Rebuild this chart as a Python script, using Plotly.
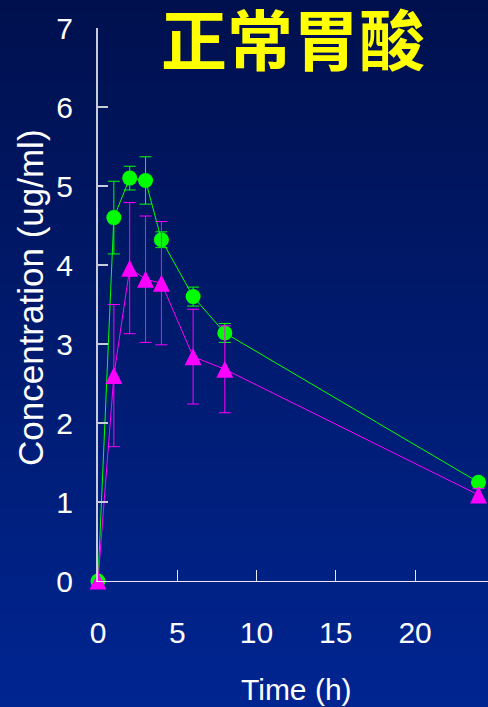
import plotly.graph_objects as go

# ---- data ----
times = [0, 1, 2, 3, 4, 6, 8, 24]
green_conc = [0, 4.60, 5.10, 5.07, 4.32, 3.60, 3.14, 1.25]
green_sd = [0, 0.46, 0.15, 0.30, 0.10, 0.12, 0.12, 0.05]
magenta_conc = [0, 2.60, 3.96, 3.82, 3.77, 2.84, 2.68, 1.09]
magenta_sd = [0, 0.90, 0.83, 0.80, 0.78, 0.60, 0.55, 0.08]
x_ticks = [0, 5, 10, 15, 20]
y_ticks = [0, 1, 2, 3, 4, 5, 6, 7]
title_text = "正常胃酸"
x_title = "Time (h)"
y_title = "Concentration (ug/ml)"

# ---- layout geometry (pixels) ----
W, H = 488, 707
L, R, T, B = 98, 0, 28, 126
plot_h = H - T - B
plot_w = W - L - R
Y_MAX = 7
X_MAX = 24.6

GREEN = "#00FF00"
MAGENTA = "#FF00FF"
TRI_SIZE = 17
tri_shift = (TRI_SIZE / 2) / (plot_h / Y_MAX)

fig = go.Figure()

fig.add_trace(go.Scatter(
    x=times, y=green_conc, mode="lines+markers",
    line=dict(color=GREEN, width=1),
    marker=dict(symbol="circle", size=15, color=GREEN, line=dict(width=0)),
    error_y=dict(type="data", array=green_sd, color=GREEN, thickness=1, width=6),
    cliponaxis=False, showlegend=False,
))
fig.add_trace(go.Scatter(
    x=times, y=magenta_conc, mode="lines",
    line=dict(color=MAGENTA, width=1),
    error_y=dict(type="data", array=magenta_sd, color=MAGENTA, thickness=1, width=6),
    cliponaxis=False, showlegend=False,
))
fig.add_trace(go.Scatter(
    x=times, y=magenta_conc, mode="markers", yaxis="y2",
    marker=dict(symbol="arrow-up", size=TRI_SIZE, color=MAGENTA, line=dict(width=0)),
    cliponaxis=False, showlegend=False,
))

# gradient background bands
shapes = []
N = 60
top_c = (0, 16, 78)
bot_c = (0, 37, 145)
for i in range(N):
    py0 = i * H / N
    py1 = (i + 1) * H / N + 1
    t = (i + 0.5) / N
    c = tuple(int(round(top_c[k] + (bot_c[k] - top_c[k]) * t)) for k in range(3))
    shapes.append(dict(
        type="rect", xref="paper", yref="paper", layer="below",
        x0=-0.4, x1=1.2,
        y0=(H - B - py1) / plot_h, y1=(H - B - py0) / plot_h,
        fillcolor="rgb(%d,%d,%d)" % c, line=dict(width=0),
    ))

font_family = "Liberation Sans, Arial, sans-serif"

fig.update_layout(
    width=W, height=H,
    margin=dict(l=L, r=R, t=T, b=B, pad=0),
    paper_bgcolor="rgb(0,30,110)",
    plot_bgcolor="rgba(0,0,0,0)",
    shapes=shapes,
    xaxis=dict(
        range=[0, X_MAX], tickvals=x_ticks, ticks="inside", ticklen=11,
        tickwidth=1, tickcolor="#E8E8F0", showline=True, linecolor="#E8E8F0",
        linewidth=1, showgrid=False, zeroline=False,
        tickfont=dict(family=font_family, size=30, color="white"),
        ticklabelstandoff=25,
    ),
    yaxis=dict(
        range=[0, Y_MAX], tickvals=y_ticks, ticks="inside", ticklen=10,
        tickwidth=2, tickcolor="#C8CCDA", showline=True, linecolor="#C8CCDA",
        linewidth=2, showgrid=False, zeroline=False,
        tickfont=dict(family=font_family, size=30, color="white"),
        ticklabelstandoff=17,
    ),
    yaxis2=dict(
        overlaying="y", range=[-tri_shift, Y_MAX - tri_shift], visible=False,
        showgrid=False, zeroline=False,
    ),
    annotations=[
        dict(text=title_text, xref="paper", yref="paper",
             x=(293 - L) / plot_w, y=(H - B - 42) / plot_h,
             xanchor="center", yanchor="middle", showarrow=False, borderpad=0,
             font=dict(family="Liberation Sans, Noto Sans CJK SC", size=66,
                       color="#FFFF00", weight="bold")),
        dict(text=x_title, xref="paper", yref="paper",
             x=(296 - L) / plot_w, y=(H - B - 689) / plot_h,
             xanchor="center", yanchor="middle", showarrow=False,
             font=dict(family=font_family, size=30, color="white")),
        dict(text=y_title, xref="paper", yref="paper",
             x=(30 - L) / plot_w, y=(H - B - 298) / plot_h,
             xanchor="center", yanchor="middle", showarrow=False, textangle=-90,
             font=dict(family=font_family, size=35, color="white")),
    ],
)

fig.write_html("out.html")
